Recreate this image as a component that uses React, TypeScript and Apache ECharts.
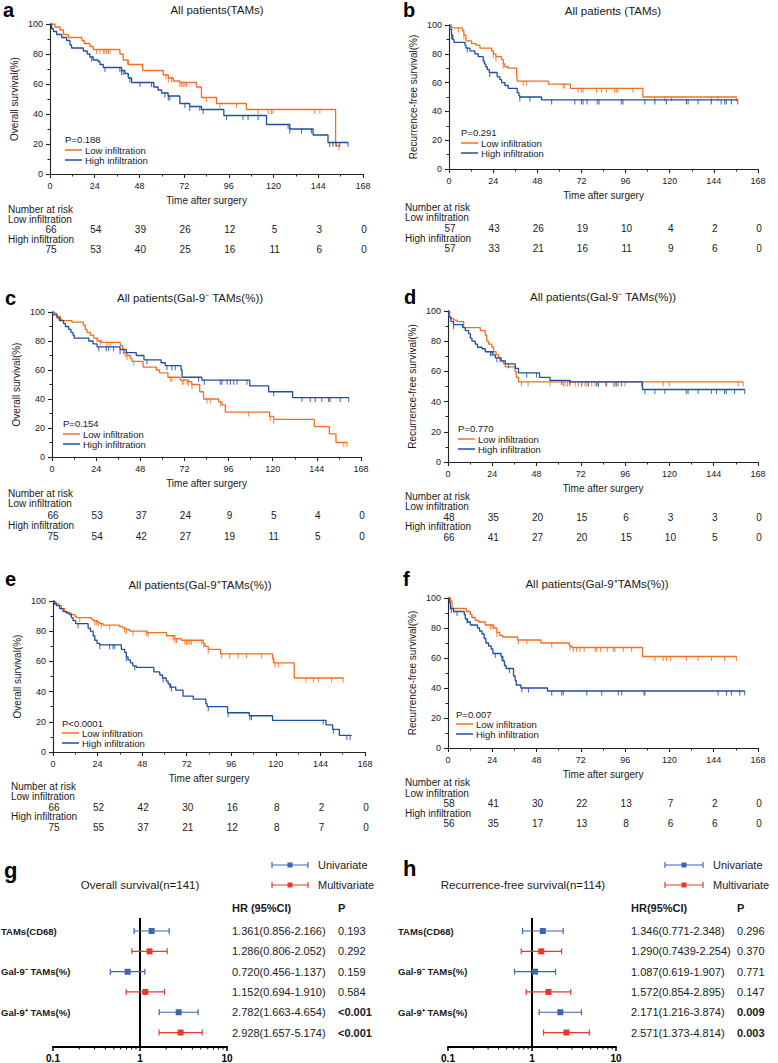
import React, { useEffect, useRef } from 'react';
import * as echarts from 'echarts';

type Pt = [number, number];

const ORANGE = '#F26F21';
const BLUE = '#1E4FA0';
const F_BLUE = '#3D66B0';
const F_RED = '#E8382E';
const INK = '#1a1a1a';
const FONT = 'Arial, "Liberation Sans", Helvetica, sans-serif';

const TIME_TICKS = [0, 24, 48, 72, 96, 120, 144, 168];

// ---------- panel a: OS, TAMs ----------
const A_LOW: Pt[] = [[0,100],[2.7,98],[5.4,96],[7.2,93],[9.8,91],[17.1,89],[18.4,87],[21.4,85],[23.2,83],[37.5,80],[39.3,76],[42,73],[49.7,69],[60.8,66],[63.5,64],[66.2,62],[69.7,61],[78.6,58],[81.3,51],[89.4,47],[105.4,43],[153.3,19]];
const A_LOW_END = 155.1;
const A_LOW_CENS = [25,26.8,28.6,29.5,30.4,31.3,32.2,41.6,62.2,63.5,65.2,69.7,70.6,71.5,72.4,73.3,84,91.2,100.1,111.7,117.1,118.8,119.7,142.1,144.8,155.1];
const A_HIGH: Pt[] = [[0,100],[0.9,97],[1.8,95],[3.6,93],[6.3,91],[8.9,89],[10.7,86],[11.6,84],[17.9,82],[20,80],[21.4,78],[23.2,76],[25.9,75],[26.8,73],[28.6,71],[38.4,69],[40.2,67],[42,64],[43.8,61],[55.7,58],[58,56],[59.9,54],[63.4,52],[69.7,47],[75,45],[81.3,43],[93.3,39],[116.2,33],[128.7,30],[141.2,26],[149.2,21]];
const A_HIGH_END = 160;
const A_HIGH_CENS = [22.3,29.5,37.5,38.4,39.3,42.9,48.3,54.5,61.7,63.5,64.3,72.4,75,80.4,82.2,94.7,103.6,106.3,111.7,127.8,128.7,135,140.3,150.1,151.9,153.7,155.5,160];
const A_RISK_LOW = [66,54,39,26,12,5,3,0];
const A_RISK_HIGH = [75,53,40,25,16,11,6,0];

// ---------- panel b: RFS, TAMs ----------
const B_LOW: Pt[] = [[0,100],[1.4,98],[7.4,96],[8.1,93],[9.2,89],[12.3,87],[14.7,86],[16.8,84],[23.2,82],[24.1,80],[25.5,78],[28.6,76],[29.5,73],[30.4,71],[32.2,70],[36.8,65],[37.1,61],[54,59],[66,56],[105.4,50]];
const B_LOW_END = 156.3;
const B_LOW_CENS = [5.1,8.1,24.1,25.5,29.5,40.4,42.2,62.1,63,70.2,72,72.9,80.2,82.9,85.6,90.1,91,91.9,100,111.9,117.3,120.9,142.6,146.2,156.3];
const B_HIGH: Pt[] = [[0,100],[0.5,97],[1.4,93],[2,90],[2.7,88],[8.7,86],[9.2,84],[11.4,82],[14,80],[15.9,78],[18.6,75],[19.2,73],[20,71],[20.8,69],[21.9,67],[26.2,64],[27.7,62],[28.6,60],[30.4,58],[32.2,56],[37.1,53],[38,51],[38.5,50],[50.3,48]];
const B_HIGH_END = 157;
const B_HIGH_CENS = [1.4,10,22.1,38.5,44,55.8,68.4,72,72.9,75.1,80.6,81.6,93.7,94.6,106.5,111.9,118.2,129.1,130,135.4,142.6,148,149.9,150.8,153.5,157];
const B_RISK_LOW = [57,43,26,19,10,4,2,0];
const B_RISK_HIGH = [57,33,21,16,11,9,6,0];

// ---------- panel c: OS, Gal-9- TAMs ----------
const C_LOW: Pt[] = [[0,100],[1.3,99],[2.7,97],[4.5,95],[5.4,94],[10.9,93],[17,91],[18.1,88],[19,86],[20.8,84],[22.7,82],[24.8,80],[27,79],[37.1,77],[38.2,75],[39,72],[40.8,70],[42.6,68],[43.5,66],[49.5,62],[56.7,60],[58.5,58],[63,55],[69.7,53],[74.3,52],[76,50],[80.3,45],[82.4,40],[90.6,38],[92.4,36],[94.2,31],[118.3,28],[120.5,26],[142.6,21],[150.8,16],[154.4,10]];
const C_LOW_END = 160.4;
const C_LOW_CENS = [3.6,24.5,26.3,29.9,31.7,39.9,40.8,44.4,64.3,65.2,70.7,71.6,73.4,74.3,76.1,84.3,86.1,91.5,106.9,118.7,120.5,158.6,160.4];
const C_HIGH: Pt[] = [[0,100],[0.5,98],[2.7,96],[4.2,94],[6.3,92],[7.3,90],[9.1,88],[10.3,86],[11.4,84],[12.1,82],[20,80],[22.3,78],[24.5,76],[37,74],[40.4,72],[45.8,70],[50,67],[59.3,65],[61.6,63],[70.2,60],[70.7,55],[81.5,53],[107.5,49],[117.8,45],[130.8,41]];
const C_HIGH_END = 161.3;
const C_HIGH_CENS = [25.4,29.5,30.8,33.5,37,39,51.6,62.5,65.2,67,79.7,82.8,91.5,92.4,95.2,97,98.8,100.6,106,120.5,135.9,140.4,143.1,146.7,150.3,151.2,156.7,161.3];
const C_RISK_LOW = [66,53,37,24,9,5,4,0];
const C_RISK_HIGH = [75,54,42,27,19,11,5,0];

// ---------- panel d: RFS, Gal-9- TAMs ----------
const D_LOW: Pt[] = [[0,100],[0.9,96],[1.6,95],[3,94],[4.9,93],[8.5,89],[17.5,87],[20.2,84],[21,80],[22,78],[23.8,76],[24.7,73],[26.1,71],[27.4,69],[28.3,67],[30.1,65],[31,63],[36.4,60],[37,56],[38.2,53]];
const D_LOW_END = 160;
const D_LOW_CENS = [39.8,43.4,55.3,62.5,63.4,64.7,66,68.9,70.7,74.3,75.2,77.9,79.7,81.5,86,89.6,92.3,95.9,104.9,116.6,119.9,157.2,160];
const D_HIGH: Pt[] = [[0,100],[0.4,96],[1.6,93],[3,91],[8,89],[9.4,87],[11.2,85],[12.1,82],[13,80],[14.8,78],[16,76],[18.4,75],[20.2,73],[24.3,71],[25.6,69],[28.8,67],[31,65],[36.4,62],[38.2,59],[49.6,56],[55.3,54],[66.2,53],[105.4,48]];
const D_HIGH_END = 160.8;
const D_HIGH_CENS = [3,23,23.8,26.5,28.3,32.8,42.7,48,61.6,66,72.5,76.1,80.6,81.5,85.6,90.5,91.4,94.1,106.7,112.1,117.5,129.2,130.1,135.5,142.8,145.5,149.9,150.8,155.3,160.8];
const D_RISK_LOW = [48,35,20,15,6,3,3,0];
const D_RISK_HIGH = [66,41,27,20,15,10,5,0];

// ---------- panel e: OS, Gal-9+ TAMs ----------
const E_LOW: Pt[] = [[0,100],[0.5,99],[1.8,98],[3.2,97],[4.5,95],[6.3,93],[8.1,92],[9.9,91],[11.7,90],[12.6,89],[20.7,88],[21.6,87],[23.9,86],[25.2,85],[27,84],[35.9,83],[37.7,82],[39.5,81],[41.3,80],[50.7,79],[61.1,77],[65.6,75],[69.2,74],[80.9,72],[81.8,70],[83.6,68],[90.2,65],[118.2,62],[118.9,59],[129.9,49]];
const E_LOW_END = 156.3;
const E_LOW_CENS = [14.4,22.5,23.4,24.3,26,30.5,38.6,39.5,43.1,50.3,51.2,64.7,65.6,66.5,71,71.9,72.8,73.7,74.6,80,81.2,83.6,90.7,95.2,99.7,104.2,112.3,118.6,119.5,121.3,136.2,140.2,142.9,150,156.3];
const E_HIGH: Pt[] = [[0,100],[0.9,98],[1.8,97],[3.6,95],[5.4,93],[7.2,92],[8.9,91],[9.9,89],[10.8,87],[12.2,85],[18.9,82],[20.1,80],[21.6,77],[22.5,74],[23.7,72],[25.2,71],[36.8,68],[38.6,66],[39.5,63],[40.4,61],[41.7,59],[43,57],[44.9,56],[54.3,53],[57.5,51],[59,49],[61,47],[62,45],[63.3,43],[66.1,41],[70,37],[75.5,35],[82.3,32],[83,30],[94,26],[105.7,24],[118.2,21],[147,18],[150.6,15],[154.2,11]];
const E_HIGH_END = 160.8;
const E_HIGH_CENS = [13.5,25.2,30.5,32.3,33.2,39.5,44,59.3,62.9,63.8,83.6,94.3,106,106.9,145.5,151,158.2,160];
const E_RISK_LOW = [66,52,42,30,16,8,2,0];
const E_RISK_HIGH = [75,55,37,21,12,8,7,0];

// ---------- panel f: RFS, Gal-9+ TAMs ----------
const F_LOW: Pt[] = [[0,100],[1.3,98],[2.2,93],[9.9,91],[12.1,89],[13,87],[14.8,85],[16.6,84],[20.2,82],[24.7,80],[26.5,77],[28,75],[29.7,74],[37.7,72],[50.3,70],[65.8,68],[67,67],[105.4,61]];
const F_LOW_END = 156.3;
const F_LOW_CENS = [3,22.9,23.8,26.5,38.2,42.7,56.2,66.1,67.9,69.7,71.5,73.8,79.7,80.6,82.7,86.3,89.6,90.5,95,99.5,112.1,116.6,118.4,120.7,129.2,135.5,142.8,149.9,156.3];
const F_HIGH: Pt[] = [[0,100],[0.7,97],[1.3,93],[3,91],[8.8,89],[9.4,86],[10.6,84],[12.1,82],[16,80],[17.1,78],[18.4,76],[19.6,73],[20.5,70],[22,68],[23.4,66],[24.3,63],[28.8,61],[29.7,58],[30.6,55],[31.5,53],[35.5,48],[36.4,45],[37,42],[39.5,40],[53.9,38]];
const F_HIGH_END = 160.8;
const F_HIGH_CENS = [1.8,4.9,10.3,25.6,29.2,33.3,40,43.6,56.2,61.6,62.5,75.2,83.3,92.3,94.1,106.2,106.7,146.4,150.9,153.6,158.1,160.8];
const F_RISK_LOW = [58,41,30,22,13,7,2,0];
const F_RISK_HIGH = [56,35,17,13,8,6,6,0];

const KM_LETTERS = ['a', 'b', 'c', 'd', 'e', 'f'];
const KM_TITLES = ['All patients(TAMs)', 'All patients (TAMs)', 'All patients(Gal-9⁻ TAMs(%))', 'All patients(Gal-9⁻ TAMs(%))', 'All patients(Gal-9⁺TAMs(%))', 'All patients(Gal-9⁺TAMs(%))'];
const KM_YNAMES = ['Overall survival(%)', 'Recurrence-free survival(%)', 'Overall survival(%)', 'Recurrence-free survival(%)', 'Overall survival(%)', 'Recurrence-free survival(%)'];
const KM_P = ['P=0.188', 'P=0.291', 'P=0.154', 'P=0.770', 'P<0.0001', 'P=0.007'];

// ---------- forest plots ----------
const FOREST_LABELS = ['TAMs(CD68)', 'Gal-9⁻ TAMs(%)', 'Gal-9⁺ TAMs(%)'];
const UNI_ROWS = [0, 2, 4];
const MULTI_ROWS = [1, 3, 5];
const OS_HR = [1.361, 1.286, 0.720, 1.152, 2.782, 2.928];
const OS_LO = [0.856, 0.806, 0.456, 0.694, 1.663, 1.657];
const OS_HI = [2.166, 2.052, 1.137, 1.910, 4.654, 5.174];
const OS_TEXT = ['1.361(0.856-2.166)', '1.286(0.806-2.052)', '0.720(0.456-1.137)', '1.152(0.694-1.910)', '2.782(1.663-4.654)', '2.928(1.657-5.174)'];
const OS_P = ['0.193', '0.292', '0.159', '0.584', '<0.001', '<0.001'];
const OS_P_BOLD = [false, false, false, false, true, true];
const RFS_HR = [1.346, 1.290, 1.087, 1.572, 2.171, 2.571];
const RFS_LO = [0.771, 0.7439, 0.619, 0.854, 1.216, 1.373];
const RFS_HI = [2.348, 2.254, 1.907, 2.895, 3.874, 4.814];
const RFS_TEXT = ['1.346(0.771-2.348)', '1.290(0.7439-2.254)', '1.087(0.619-1.907)', '1.572(0.854-2.895)', '2.171(1.216-3.874)', '2.571(1.373-4.814)'];
const RFS_P = ['0.296', '0.370', '0.771', '0.147', '0.009', '0.003'];
const RFS_P_BOLD = [false, false, false, false, true, true];
const MINOR_LOG_TICKS = [0.2, 0.3, 0.4, 0.5, 0.6, 0.7, 0.8, 0.9, 2, 3, 4, 5, 6, 7, 8, 9];

// ---------- layout ----------
const KM_LAYOUT = [
  { left: 50, top: 24, width: 313, height: 150, letterX: 3, letterY: 10, titleX: 217, titleY: 10, legX: 65, pY: 139, leg1Y: 150, leg2Y: 160, riskX: 8, riskY: [209, 219, 229, 239, 249] },
  { left: 449, top: 25, width: 309, height: 144, letterX: 403, letterY: 10, titleX: 613, titleY: 11, legX: 461, pY: 132, leg1Y: 143, leg2Y: 153, riskX: 405, riskY: [207, 217, 228, 238, 248] },
  { left: 52, top: 312, width: 309, height: 145, letterX: 5, letterY: 298, titleX: 190, titleY: 298, legX: 63, pY: 423, leg1Y: 434, leg2Y: 444, riskX: 8, riskY: [493, 503, 515, 525, 536] },
  { left: 448, top: 311, width: 310, height: 151, letterX: 404, letterY: 297, titleX: 603, titleY: 297, legX: 458, pY: 428, leg1Y: 439, leg2Y: 449, riskX: 405, riskY: [496, 506, 517, 526, 537] },
  { left: 53, top: 601, width: 312, height: 151, letterX: 5, letterY: 579, titleX: 200, titleY: 585, legX: 62, pY: 723, leg1Y: 733, leg2Y: 743, riskX: 11, riskY: [786, 796, 807, 816, 827] },
  { left: 448, top: 598, width: 310, height: 150, letterX: 403, letterY: 579, titleX: 597, titleY: 584, legX: 456, pY: 714, leg1Y: 724, leg2Y: 734, riskX: 405, riskY: [782, 793, 803, 813, 823] },
];
const FOREST_LAYOUT = [
  { left: 53, top: 918, width: 174, height: 129, letter: 'g', letterX: 4, letterY: 870, title: 'Overall survival(n=141)', titleX: 140, titleY: 885, legX1: 272, legX2: 308, legTextX: 318, legY: [865, 885], hrX: 232, pX: 338, headY: 908, header: 'HR (95%CI)', labelX: 1 },
  { left: 448, top: 918, width: 168, height: 129, letter: 'h', letterX: 403, letterY: 868, title: 'Recurrence-free survival(n=114)', titleX: 523, titleY: 885, legX1: 665, legX2: 703, legTextX: 713, legY: [865, 885], hrX: 631, pX: 737, headY: 908, header: 'HR(95%CI)', labelX: 398 },
];
const ROW_MIN = -0.64;
const ROW_MAX = 5.71;

const KM = [
  { low: A_LOW, lowEnd: A_LOW_END, lowC: A_LOW_CENS, high: A_HIGH, highEnd: A_HIGH_END, highC: A_HIGH_CENS, rLow: A_RISK_LOW, rHigh: A_RISK_HIGH },
  { low: B_LOW, lowEnd: B_LOW_END, lowC: B_LOW_CENS, high: B_HIGH, highEnd: B_HIGH_END, highC: B_HIGH_CENS, rLow: B_RISK_LOW, rHigh: B_RISK_HIGH },
  { low: C_LOW, lowEnd: C_LOW_END, lowC: C_LOW_CENS, high: C_HIGH, highEnd: C_HIGH_END, highC: C_HIGH_CENS, rLow: C_RISK_LOW, rHigh: C_RISK_HIGH },
  { low: D_LOW, lowEnd: D_LOW_END, lowC: D_LOW_CENS, high: D_HIGH, highEnd: D_HIGH_END, highC: D_HIGH_CENS, rLow: D_RISK_LOW, rHigh: D_RISK_HIGH },
  { low: E_LOW, lowEnd: E_LOW_END, lowC: E_LOW_CENS, high: E_HIGH, highEnd: E_HIGH_END, highC: E_HIGH_CENS, rLow: E_RISK_LOW, rHigh: E_RISK_HIGH },
  { low: F_LOW, lowEnd: F_LOW_END, lowC: F_LOW_CENS, high: F_HIGH, highEnd: F_HIGH_END, highC: F_HIGH_CENS, rLow: F_RISK_LOW, rHigh: F_RISK_HIGH },
];

const kmAt = (steps: Pt[], t: number) => {
  let s = steps[0][1];
  for (const [x, y] of steps) {
    if (x <= t) s = y;
    else break;
  }
  return s;
};

function txt(x: number, y: number, s: string, size: number, opt: { bold?: boolean; align?: string; color?: string } = {}) {
  const align = opt.align ?? 'left';
  return {
    type: 'text', x, y, silent: true,
    style: {
      text: s, fontSize: size, fontFamily: FONT, fontWeight: opt.bold ? 'bold' : 'normal',
      fill: opt.color ?? INK, align, verticalAlign: 'middle', textAlign: align, textVerticalAlign: 'middle',
    },
  };
}
function seg(x1: number, y1: number, x2: number, y2: number, color: string, w: number) {
  return { type: 'line', silent: true, shape: { x1, y1, x2, y2 }, style: { stroke: color, lineWidth: w } };
}

function kmAxisCommon() {
  return {
    axisLine: { show: true, onZero: false, lineStyle: { color: '#222', width: 1.1 } },
    axisTick: { show: true, length: 4, lineStyle: { color: '#222', width: 1.1 } },
    minorTick: { show: true, splitNumber: 2, length: 2.5, lineStyle: { color: '#222', width: 1 } },
    splitLine: { show: false },
    minorSplitLine: { show: false },
    nameTextStyle: { fontSize: 10, color: INK, fontFamily: FONT },
  };
}

function forestSeries(axis: number, hr: number[], lo: number[], hi: number[], rows: number[], color: string, withRef: boolean) {
  const s: any = {
    type: 'custom', xAxisIndex: axis, yAxisIndex: axis, clip: false, z: 5,
    data: rows.map((r) => [hr[r], r, lo[r], hi[r]]),
    encode: { x: [0, 2, 3], y: 1 },
    renderItem: (_p: any, api: any) => {
      const c = api.coord([api.value(0), api.value(1)]);
      const l = api.coord([api.value(2), api.value(1)]);
      const h = api.coord([api.value(3), api.value(1)]);
      const y = c[1];
      const st = { stroke: color, lineWidth: 1.2 };
      return {
        type: 'group',
        children: [
          { type: 'line', shape: { x1: l[0], y1: y, x2: h[0], y2: y }, style: st },
          { type: 'line', shape: { x1: l[0], y1: y - 3, x2: l[0], y2: y + 3 }, style: st },
          { type: 'line', shape: { x1: h[0], y1: y - 3, x2: h[0], y2: y + 3 }, style: st },
          { type: 'rect', shape: { x: c[0] - 3, y: y - 3, width: 6, height: 6 }, style: { fill: color } },
        ],
      };
    },
  };
  if (withRef) {
    s.markLine = {
      silent: true, symbol: 'none', label: { show: false }, z: 1,
      lineStyle: { color: '#000', width: 2, type: 'solid' },
      data: [{ xAxis: 1 }],
    };
  }
  return s;
}

function minorTickSeries(axis: number) {
  return {
    type: 'custom', xAxisIndex: axis, yAxisIndex: axis, clip: false, silent: true,
    data: MINOR_LOG_TICKS.map((v) => [v, 0]),
    encode: { x: 0, y: 1 },
    renderItem: (params: any, api: any) => {
      const x = api.coord([api.value(0), 0])[0];
      const cs = params.coordSys;
      const b = cs.y + cs.height;
      return { type: 'line', shape: { x1: x, y1: b, x2: x, y2: b + 2.5 }, style: { stroke: '#000', lineWidth: 1 } };
    },
  };
}

function buildOption() {
  const grid: any[] = [];
  const xAxis: any[] = [];
  const yAxis: any[] = [];
  const series: any[] = [];

  KM.forEach((p, i) => {
    const L = KM_LAYOUT[i];
    grid.push({ left: L.left, top: L.top, width: L.width, height: L.height });
    xAxis.push({
      ...kmAxisCommon(), gridIndex: i, type: 'value', min: 0, max: 168, interval: 24,
      name: 'Time after surgery', nameLocation: 'middle', nameGap: 21,
      axisLabel: { fontSize: 9, color: INK, fontFamily: FONT, margin: 7 },
    });
    yAxis.push({
      ...kmAxisCommon(), gridIndex: i, type: 'value', min: 0, max: 100, interval: 20,
      name: KM_YNAMES[i], nameLocation: 'middle', nameGap: 31,
      axisLabel: { fontSize: 9, color: INK, fontFamily: FONT, margin: 7 },
    });
    const groups: [Pt[], number, number[], string][] = [
      [p.low, p.lowEnd, p.lowC, ORANGE],
      [p.high, p.highEnd, p.highC, BLUE],
    ];
    groups.forEach(([steps, end, cens, color]) => {
      series.push({
        type: 'line', xAxisIndex: i, yAxisIndex: i, step: 'end', symbol: 'none',
        data: [...steps, [end, steps[steps.length - 1][1]]],
        lineStyle: { color, width: 1.3 }, silent: true,
      });
      series.push({
        type: 'scatter', xAxisIndex: i, yAxisIndex: i, symbol: 'rect', symbolSize: [1.1, 5], symbolOffset: [0, 2],
        data: cens.map((t) => [t, kmAt(steps, t)]), itemStyle: { color }, silent: true,
      });
    });
  });

  FOREST_LAYOUT.forEach((L, k) => {
    const idx = 6 + k;
    grid.push({ left: L.left, top: L.top, width: L.width, height: L.height });
    xAxis.push({
      gridIndex: idx, type: 'log', logBase: 10, min: 0.1, max: 10,
      axisLine: { show: true, onZero: false, lineStyle: { color: '#000', width: 2 } },
      axisTick: { show: true, length: 4, lineStyle: { color: '#000', width: 1.5 } },
      axisLabel: { fontSize: 10, fontWeight: 'bold', color: '#000', fontFamily: FONT, margin: 6 },
      splitLine: { show: false },
    });
    yAxis.push({ gridIndex: idx, type: 'value', min: ROW_MIN, max: ROW_MAX, inverse: true, show: false, splitLine: { show: false } });
    const hr = k === 0 ? OS_HR : RFS_HR;
    const lo = k === 0 ? OS_LO : RFS_LO;
    const hi = k === 0 ? OS_HI : RFS_HI;
    series.push(forestSeries(idx, hr, lo, hi, UNI_ROWS, F_BLUE, true));
    series.push(forestSeries(idx, hr, lo, hi, MULTI_ROWS, F_RED, false));
    series.push(minorTickSeries(idx));
  });

  return { animation: false, backgroundColor: '#ffffff', grid, xAxis, yAxis, series };
}

function buildGraphics(chart: any) {
  const g: any[] = [];
  KM.forEach((p, i) => {
    const L = KM_LAYOUT[i];
    g.push(txt(L.letterX, L.letterY, KM_LETTERS[i], 20, { bold: true, color: '#000' }));
    g.push(txt(L.titleX, L.titleY, KM_TITLES[i], 11.5, { align: 'center' }));
    g.push(txt(L.legX, L.pY, KM_P[i], 9.5));
    g.push(seg(L.legX, L.leg1Y, L.legX + 17, L.leg1Y, ORANGE, 1.5));
    g.push(txt(L.legX + 20, L.leg1Y, 'Low infiltration', 9.5));
    g.push(seg(L.legX, L.leg2Y, L.legX + 17, L.leg2Y, BLUE, 1.5));
    g.push(txt(L.legX + 20, L.leg2Y, 'High infiltration', 9.5));
    g.push(txt(L.riskX, L.riskY[0], 'Number at risk', 10));
    g.push(txt(L.riskX, L.riskY[1], 'Low infiltration', 10));
    g.push(txt(L.riskX, L.riskY[3], 'High infiltration', 10));
    TIME_TICKS.forEach((t, j) => {
      const x = chart.convertToPixel({ xAxisIndex: i }, t) as number;
      g.push(txt(x + 1, L.riskY[2], String(p.rLow[j]), 10, { align: 'center' }));
      g.push(txt(x + 1, L.riskY[4], String(p.rHigh[j]), 10, { align: 'center' }));
    });
  });

  FOREST_LAYOUT.forEach((L, k) => {
    const idx = 6 + k;
    const texts = k === 0 ? OS_TEXT : RFS_TEXT;
    const ps = k === 0 ? OS_P : RFS_P;
    const pb = k === 0 ? OS_P_BOLD : RFS_P_BOLD;
    g.push(txt(L.letterX, L.letterY, L.letter, 22, { bold: true, color: '#000' }));
    g.push(txt(L.titleX, L.titleY, L.title, 11.5, { align: 'center' }));
    const legs: [string, string][] = [['Univariate', F_BLUE], ['Multivariate', F_RED]];
    legs.forEach(([name, color], m) => {
      const y = L.legY[m];
      const xc = (L.legX1 + L.legX2) / 2;
      g.push(seg(L.legX1, y, L.legX2, y, color, 1.2));
      g.push(seg(L.legX1, y - 3, L.legX1, y + 3, color, 1.2));
      g.push(seg(L.legX2, y - 3, L.legX2, y + 3, color, 1.2));
      g.push({ type: 'rect', silent: true, shape: { x: xc - 2.5, y: y - 2.5, width: 5, height: 5 }, style: { fill: color } });
      g.push(txt(L.legTextX, y, name, 11));
    });
    g.push(txt(L.hrX, L.headY, L.header, 11, { bold: true }));
    g.push(txt(L.pX, L.headY, 'P', 11, { bold: true }));
    for (let r = 0; r < 6; r++) {
      const y = chart.convertToPixel({ yAxisIndex: idx }, r) as number;
      g.push(txt(L.hrX, y, texts[r], 11));
      g.push(txt(L.pX, y, ps[r], 11, { bold: pb[r] }));
      if (r % 2 === 0) g.push(txt(L.labelX, y, FOREST_LABELS[r / 2], 9.5, { bold: true }));
    }
  });
  return g;
}

export default function App() {
  const ref = useRef<HTMLDivElement>(null);
  useEffect(() => {
    document.body.style.margin = '0';
    const chart = echarts.init(ref.current!, null, { renderer: 'svg' });
    chart.setOption(buildOption());
    chart.setOption({ graphic: buildGraphics(chart) });
    return () => chart.dispose();
  }, []);
  return <div ref={ref} style={{ position: 'absolute', left: 0, top: 0, width: 778, height: 1063 }} />;
}
